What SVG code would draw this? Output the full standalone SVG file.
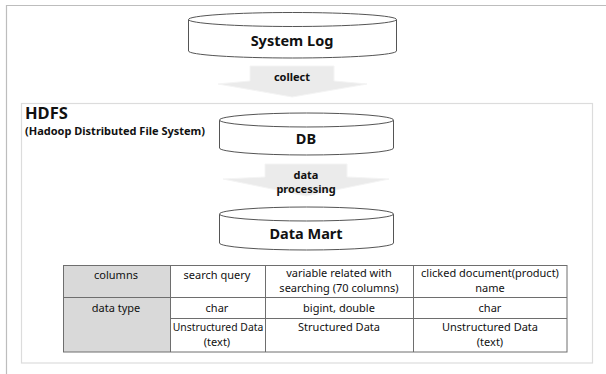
<svg xmlns="http://www.w3.org/2000/svg" width="606" height="374" viewBox="0 0 606 374">
<style>
text{font-family:"Noto Sans","Open Sans","DejaVu Sans",sans-serif;fill:#111}
.b{font-weight:bold}
.cyl{fill:#fff;stroke:#555;stroke-width:1}
.arr{fill:#ebebeb;stroke:#f4f4f4;stroke-width:1}
.t{font-size:11px;text-anchor:middle}
.tl{stroke:#6e6e6e;stroke-width:1;fill:none}
</style>
<defs>
<linearGradient id="g" x1="0" y1="0" x2="0" y2="1"><stop offset="0" stop-color="#f0f0f0"/><stop offset="1" stop-color="#e2e2e2"/></linearGradient>
</defs>
<rect width="606" height="374" fill="#fff"/>
<path d="M6.5 374V5.5H606" fill="none" stroke="#bdbdbd" stroke-width="1.2"/>
<g id="hdfs">
<rect x="21.5" y="103.5" width="571" height="259.5" fill="none" stroke="#dcdcdc" stroke-width="1.2"/>
<text x="25" y="119" class="b" font-size="16.5">HDFS</text>
<text x="25" y="135" class="b" font-size="11">(Hadoop Distributed File System)</text>
</g>
<g id="system-log">
<path class="cyl" d="M188.5 19.5A104 7 0 0 1 396.5 19.5V51A104 7 0 0 1 188.5 51Z"/>
<path class="cyl" d="M188.5 19.5A104 7 0 0 0 396.5 19.5" fill="none"/>
<text x="292" y="46" class="b" font-size="14.5" text-anchor="middle">System Log</text>
</g>
<g id="db">
<path class="cyl" d="M219.5 120A87 7 0 0 1 393.5 120V148A87 7 0 0 1 219.5 148Z"/>
<path class="cyl" d="M219.5 120A87 7 0 0 0 393.5 120" fill="none"/>
<text x="306" y="144" class="b" font-size="14.5" text-anchor="middle">DB</text>
</g>
<g id="data-mart">
<path class="cyl" d="M219.5 214A87 7 0 0 1 393.5 214V243A87 7 0 0 1 219.5 243Z"/>
<path class="cyl" d="M219.5 214A87 7 0 0 0 393.5 214" fill="none"/>
<text x="306" y="239" class="b" font-size="14.5" text-anchor="middle">Data Mart</text>
</g>
<g id="connectors">
<g id="collect">
<path class="arr" fill="url(#g)" d="M250 66H334V81L367 84L292 97L218 84L250 81Z"/>
<text x="292" y="81" class="b" font-size="11" text-anchor="middle">collect</text>
</g>
<g id="data-processing">
<path class="arr" fill="url(#g)" d="M265 164H347V177L389 179L306 196L223 179L265 177Z"/>
<text x="306" y="179" class="b" font-size="11" text-anchor="middle">data</text>
<text x="306" y="193" class="b" font-size="11" text-anchor="middle">processing</text>
</g>
</g>
<g id="table">
<rect x="63" y="265" width="107" height="87" fill="#d9d9d9"/>
<rect x="63.5" y="265.5" width="503.5" height="86.5" class="tl"/>
<path class="tl" d="M63 297.5H567M170 318.5H567M170.5 265V352M265.5 265V352M413.5 265V352"/>
<text x="116" y="279" class="t">columns</text>
<text x="217" y="279" class="t">search query</text>
<text x="339" y="277" class="t">variable related with</text>
<text x="339" y="292" class="t">searching (70 columns)</text>
<text x="490" y="277" class="t">clicked document(product)</text>
<text x="490" y="292" class="t">name</text>
<text x="116" y="312" class="t">data type</text>
<text x="217" y="312" class="t">char</text>
<text x="339" y="312" class="t">bigint, double</text>
<text x="490" y="312" class="t">char</text>
<text x="218" y="331" class="t" style="font-size:10.4px">Unstructured Data</text>
<text x="217" y="346" class="t">(text)</text>
<text x="339" y="331" class="t">Structured Data</text>
<text x="490" y="331" class="t">Unstructured Data</text>
<text x="490" y="346" class="t">(text)</text>
</g>
</svg>
